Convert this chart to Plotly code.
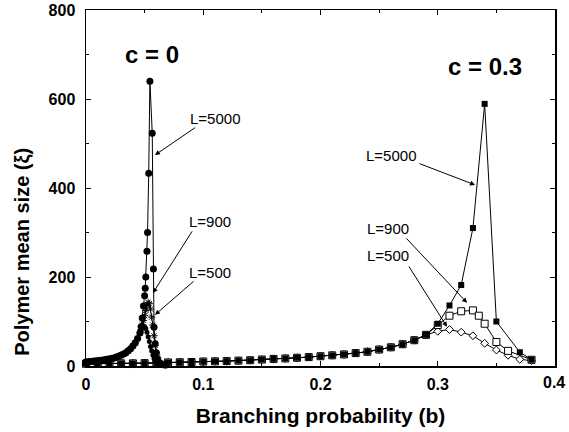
import plotly.graph_objects as go

# ---------------- data ----------------
# c = 0, common low-b part (all L overlap)
c0_b_common = [0.000, 0.002, 0.004, 0.006, 0.008, 0.010, 0.012, 0.014, 0.016, 0.018,
               0.020, 0.022, 0.024, 0.026, 0.028, 0.030, 0.032, 0.034, 0.036, 0.038,
               0.040, 0.042, 0.044, 0.046]
c0_v_common = [9, 9.5, 10, 10.5, 11, 12, 12.5, 13, 14, 15,
               16, 17, 18, 20, 22, 24, 27, 30, 34, 39,
               45, 52, 62, 74]

c0_L500_b = [0.047, 0.048, 0.049, 0.050, 0.051, 0.052, 0.053, 0.054, 0.055, 0.056,
             0.057, 0.058, 0.059, 0.060, 0.062, 0.064, 0.066, 0.068]
c0_L500_v = [80, 86, 89, 88, 84, 76, 66, 55, 44, 34,
             25, 17, 11, 7, 4, 3, 2, 2]

c0_L900_b = [0.047, 0.048, 0.049, 0.050, 0.051, 0.052, 0.053, 0.054, 0.055, 0.056,
             0.057, 0.058, 0.059, 0.060, 0.061, 0.062, 0.064, 0.066, 0.068]
c0_L900_v = [82, 92, 102, 113, 125, 136, 143, 140, 128, 110,
             92, 68, 46, 30, 20, 12, 6, 3, 2]

c0_L5000_b = [0.047, 0.048, 0.049, 0.050, 0.0505, 0.051, 0.052, 0.0525, 0.0535, 0.0545,
              0.0565, 0.0575, 0.058, 0.059, 0.060, 0.061, 0.062, 0.064, 0.066, 0.068]
c0_L5000_v = [88, 108, 135, 158, 175, 200, 258, 300, 433, 640,
              523, 218, 87, 50, 30, 15, 9, 5, 3, 2]

# c = 0.3, common part (all L overlap)
c3_b_common = [0.00, 0.01, 0.02, 0.03, 0.04, 0.05, 0.06, 0.07, 0.08, 0.09,
               0.10, 0.11, 0.12, 0.13, 0.14, 0.15, 0.16, 0.17, 0.18, 0.19,
               0.20, 0.21, 0.22, 0.23, 0.24, 0.25, 0.26, 0.27, 0.28, 0.29]
c3_v_common = [5, 5, 5.5, 6, 6, 6.5, 7, 8, 8.5, 9,
               10, 10.5, 11, 12, 13, 14.5, 16, 17, 18.5, 20,
               22, 24, 26, 29, 32, 37, 42, 49, 58, 70]

c3_L500_b = [0.30, 0.31, 0.32, 0.33, 0.34, 0.35, 0.36, 0.37, 0.38]
c3_L500_v = [78, 82, 76, 68, 51, 36, 24, 15, 12]

c3_L900_b = [0.30, 0.31, 0.32, 0.33, 0.335, 0.34, 0.35, 0.36, 0.38]
c3_L900_v = [92, 113, 123, 125, 113, 95, 54, 34, 14]

c3_L5000_b = [0.30, 0.31, 0.32, 0.33, 0.34, 0.35, 0.37, 0.38]
c3_L5000_v = [95, 136, 182, 310, 589, 100, 31, 14]

x_tick_vals = [0, 0.1, 0.2, 0.3, 0.4]
x_tick_text = ["0", "0.1", "0.2", "0.3", "0.4"]
y_tick_vals = [0, 200, 400, 600, 800]
y_tick_text = ["0", "200", "400", "600", "800"]

# ---------------- figure ----------------
fig = go.Figure()
line = dict(color="black", width=1)


def add(bx, vy, symbol, size, fill="black", lw=1):
    fig.add_trace(go.Scatter(
        x=bx, y=vy, mode="lines+markers", line=line,
        marker=dict(symbol=symbol, size=size, color=fill,
                    line=dict(color="black", width=lw)),
        showlegend=False, hoverinfo="skip", cliponaxis=False))


# c = 0.3 curves
add(c3_b_common + c3_L500_b, c3_v_common + c3_L500_v, "diamond", 6, "white", 1)
add(c3_b_common + c3_L900_b, c3_v_common + c3_L900_v, "square", 7, "white", 1)
add(c3_b_common + c3_L5000_b, c3_v_common + c3_L5000_v, "square", 6, "black", 0)

# c = 0 curves
add(c0_b_common + c0_L500_b, c0_v_common + c0_L500_v, "circle", 5, "black", 0)
add(c0_b_common + c0_L900_b, c0_v_common + c0_L900_v, "asterisk-open", 6, "black", 1)
add(c0_b_common + c0_L5000_b, c0_v_common + c0_L5000_v, "circle", 7, "black", 0)

FONT = "Liberation Sans, Arial, sans-serif"

annotations = []
# big labels
annotations.append(dict(x=0.0563, y=699, text="<b>c = 0</b>", showarrow=False,
                        font=dict(family=FONT, size=24, color="black")))
annotations.append(dict(x=0.3403, y=672, text="<b>c = 0.3</b>", showarrow=False,
                        font=dict(family=FONT, size=24, color="black")))

# L labels
for tx, ty, t in [(0.110, 557, "L=5000"), (0.1058, 324, "L=900"), (0.1058, 211, "L=500"),
                  (0.260, 474, "L=5000"), (0.2576, 310, "L=900"), (0.2576, 249, "L=500")]:
    annotations.append(dict(x=tx, y=ty, text=t, showarrow=False,
                            font=dict(family=FONT, size=15, color="black")))

# arrows (tail -> head)
for (ax_, ay_, hx, hy) in [(0.0944, 538, 0.0588, 474),
                           (0.0913, 306, 0.0571, 164),
                           (0.0930, 193, 0.0588, 115),
                           (0.2832, 456, 0.3318, 407),
                           (0.2721, 290, 0.3250, 142),
                           (0.2746, 227, 0.3079, 88)]:
    annotations.append(dict(x=hx, y=hy, ax=ax_, ay=ay_, xref="x", yref="y",
                            axref="x", ayref="y", text="", showarrow=True,
                            arrowhead=2, arrowsize=1, arrowwidth=1, arrowcolor="black"))

# y-axis title (placed lower than centre, as in the reference)
annotations.append(dict(xref="paper", yref="paper", x=-0.137, y=0.32,
                        xanchor="center", yanchor="middle",
                        text="<b>Polymer mean size (ξ)</b>", textangle=-90, showarrow=False,
                        font=dict(family=FONT, size=20, color="black")))

# last x tick label, kept inside the page edge
annotations.append(dict(xref="paper", yref="paper", x=1.0, y=0, xanchor="right",
                        yanchor="top", xshift=12, yshift=-6,
                        text="<b>" + x_tick_text[-1] + "</b>", showarrow=False,
                        font=dict(family=FONT, size=16, color="black")))

axis_common = dict(showline=True, linecolor="black", linewidth=1.5, mirror="allticks",
                   ticks="inside", ticklen=5, tickwidth=1, tickcolor="black",
                   showgrid=False, zeroline=False, automargin=False,
                   tickfont=dict(family=FONT, size=16, color="black"))

fig.update_layout(
    width=569, height=432,
    margin=dict(l=86, r=14, t=10, b=66),
    paper_bgcolor="white", plot_bgcolor="white",
    annotations=annotations,
    xaxis=dict(range=[0, 0.4], tickvals=x_tick_vals,
               ticktext=["<b>" + t + "</b>" for t in x_tick_text[:-1]] + [""],
               minor=dict(dtick=0.05, ticks="inside", ticklen=3, tickcolor="black"),
               ticklabelstandoff=3,
               title=dict(text="<b>Branching probability (b)</b>",
                          font=dict(family=FONT, size=21, color="black"), standoff=16),
               **axis_common),
    yaxis=dict(range=[0, 800], tickvals=y_tick_vals,
               ticktext=["<b>" + t + "</b>" for t in y_tick_text],
               minor=dict(dtick=100, ticks="inside", ticklen=3, tickcolor="black"),
               ticklabelstandoff=6,
               **axis_common),
)

fig.write_html("out.html",
               config={"displayModeBar": False, "staticPlot": True},
               post_script="document.body.style.margin='0';"
                           "document.body.style.overflow='hidden';")
